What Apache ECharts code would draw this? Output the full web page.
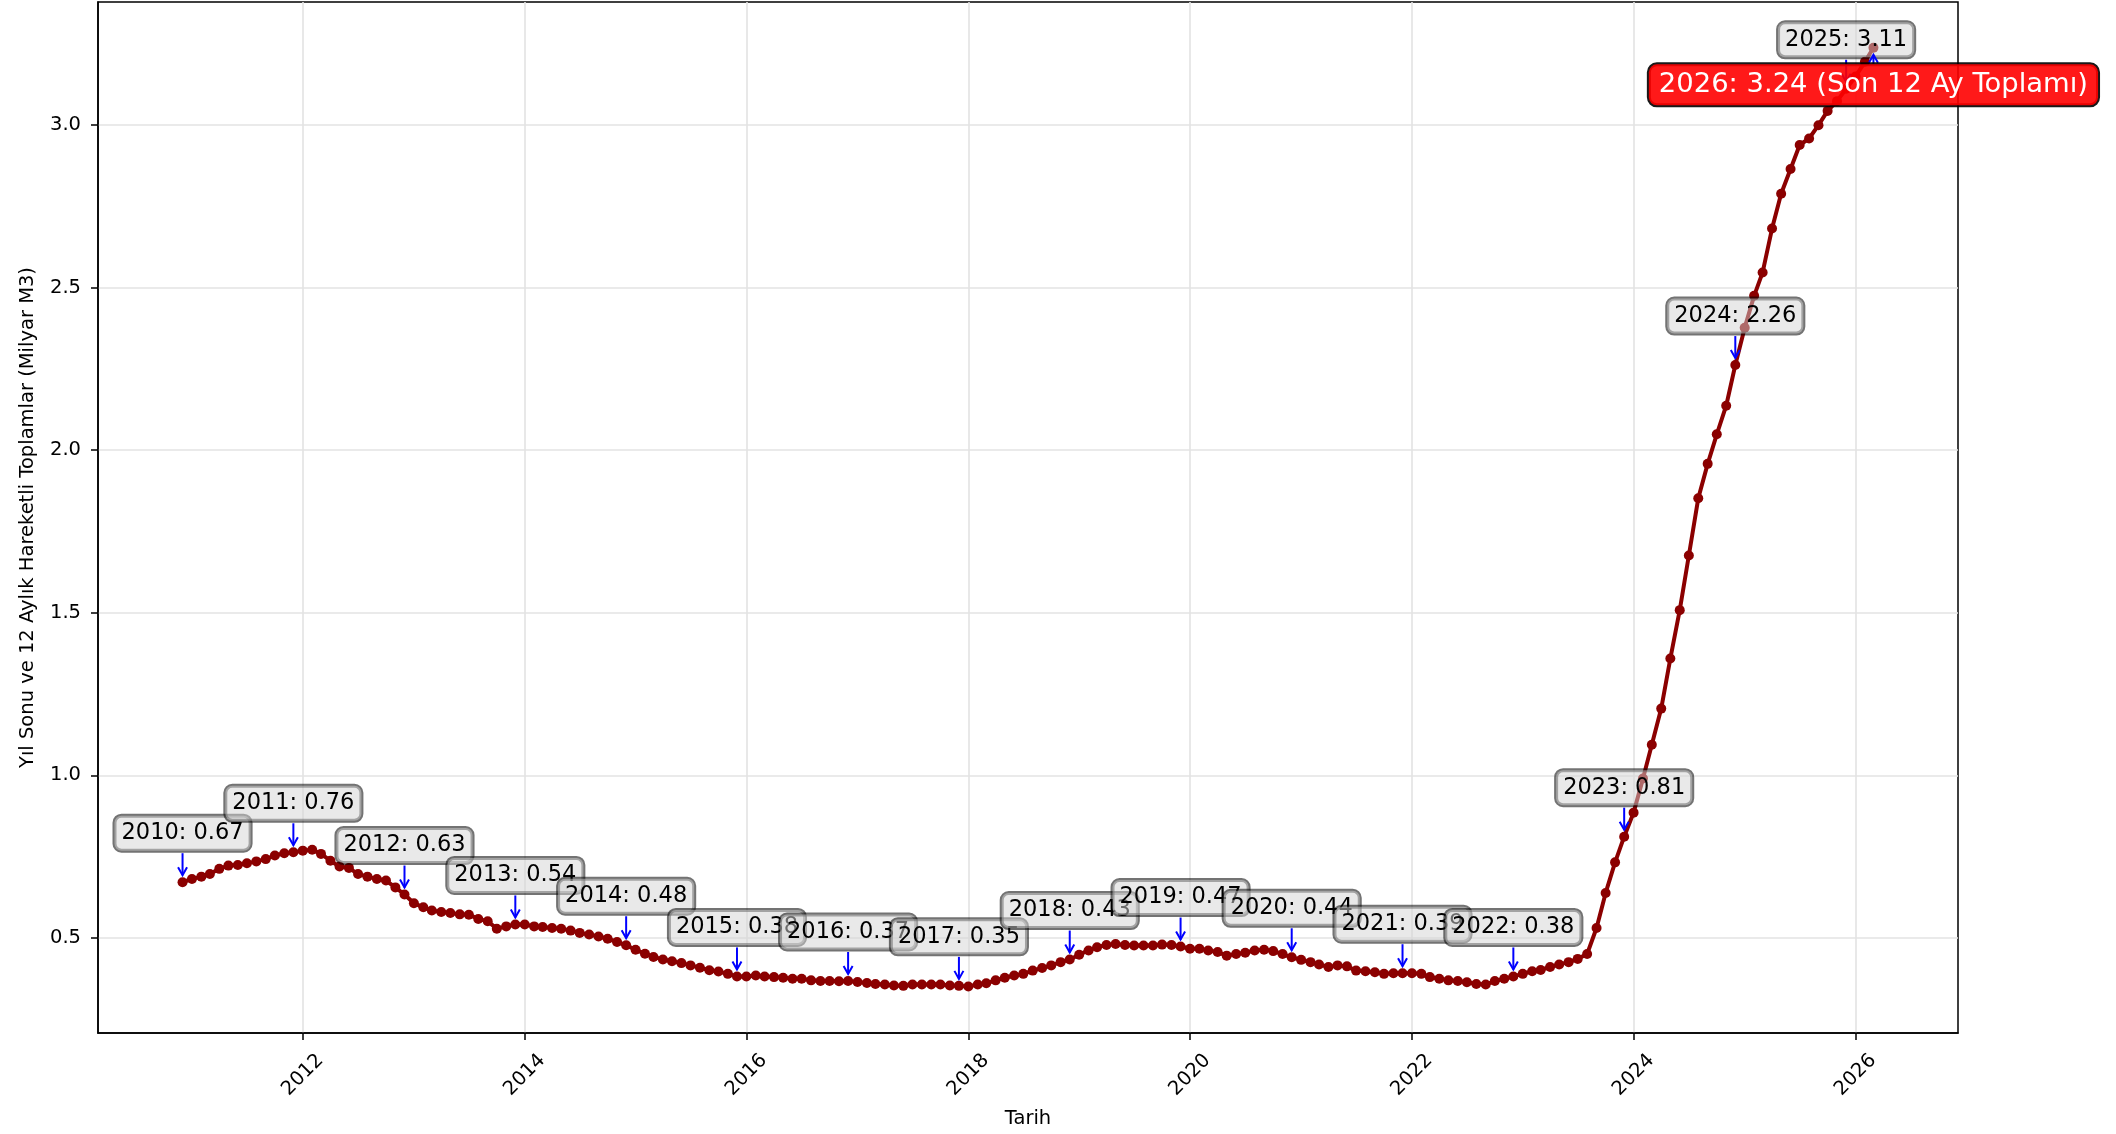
<!DOCTYPE html>
<html>
<head>
<meta charset="utf-8">
<script src="https://cdn.jsdelivr.net/npm/echarts@6/dist/echarts.min.js"></script>
<style>
html,body{margin:0;padding:0;background:#ffffff;}
#c{width:2116px;height:1134px;}
</style>
</head>
<body>
<div id="c"></div>
<script>
// ---- Data: 12-month moving totals (Milyar M3), monthly, first of month ----
const firstYear = 2010;
const firstMonth = 12;
const v2010 = [0.671];
const v2011 = [0.681,0.688,0.696,0.712,0.722,0.724,0.729,0.735,0.742,0.753,0.760,0.763];
const v2012 = [0.768,0.771,0.758,0.737,0.719,0.715,0.696,0.688,0.681,0.676,0.655,0.633];
const v2013 = [0.606,0.594,0.584,0.579,0.576,0.572,0.571,0.558,0.551,0.528,0.535,0.541];
const v2014 = [0.541,0.535,0.533,0.530,0.528,0.522,0.515,0.510,0.504,0.497,0.487,0.477];
const v2015 = [0.463,0.451,0.441,0.433,0.428,0.422,0.415,0.408,0.400,0.396,0.389,0.381];
const v2016 = [0.381,0.384,0.381,0.379,0.377,0.374,0.374,0.369,0.367,0.367,0.366,0.367];
const v2017 = [0.364,0.361,0.358,0.356,0.353,0.352,0.356,0.356,0.356,0.356,0.353,0.352];
const v2018 = [0.350,0.356,0.360,0.369,0.377,0.384,0.389,0.399,0.407,0.415,0.425,0.433];
const v2019 = [0.448,0.461,0.471,0.478,0.481,0.478,0.476,0.476,0.476,0.479,0.478,0.473];
const v2020 = [0.466,0.466,0.461,0.456,0.445,0.450,0.454,0.461,0.463,0.459,0.450,0.440];
const v2021 = [0.432,0.425,0.418,0.410,0.415,0.412,0.399,0.397,0.394,0.389,0.391,0.391];
const v2022 = [0.391,0.389,0.379,0.374,0.369,0.367,0.363,0.358,0.356,0.367,0.374,0.381];
const v2023 = [0.389,0.397,0.401,0.410,0.418,0.425,0.435,0.450,0.530,0.638,0.732,0.811];
const v2024 = [0.885,0.990,1.094,1.205,1.359,1.508,1.676,1.852,1.958,2.049,2.137,2.262];
const v2025 = [2.377,2.475,2.547,2.682,2.789,2.865,2.939,2.959,3.000,3.044,3.074,3.112];
const v2026 = [3.150,3.195,3.238];

const yearValues = [v2010,v2011,v2012,v2013,v2014,v2015,v2016,v2017,v2018,v2019,v2020,v2021,v2022,v2023,v2024,v2025,v2026];

const xTickYears = [2012,2014,2016,2018,2020,2022,2024,2026];
const yTickValues = [0.5,1.0,1.5,2.0,2.5,3.0];
const lastLabelSuffix = ' (Son 12 Ay Toplamı)';
const xAxisName = 'Tarih';
const yAxisName = 'Yıl Sonu ve 12 Aylık Hareketli Toplamlar (Milyar M3)';

// ---- Build series ----
const points = [];
const annotations = [];
yearValues.forEach((arr, yi) => {
  const year = firstYear + yi;
  const m0 = (yi === 0) ? firstMonth : 1;
  arr.forEach((v, k) => {
    const ts = new Date(year, m0 - 1 + k, 1).getTime();
    points.push([ts, v]);
    if (m0 + k === 12) annotations.push({ts: ts, v: v, text: year + ': ' + v.toFixed(2), last: false});
  });
});
const lastPt = points[points.length - 1];
annotations.push({ts: lastPt[0], v: lastPt[1], text: new Date(lastPt[0]).getFullYear() + ': ' + lastPt[1].toFixed(2) + lastLabelSuffix, last: true});

const xMin = new Date(2010, 1, 25, 13).getTime();
const xMax = new Date(2026, 11, 4, 11).getTime();
const xTicks = xTickYears.map(y => new Date(y, 0, 1).getTime());

const FONT = '"DejaVu Sans", "Liberation Sans", sans-serif';
const chart = echarts.init(document.getElementById('c'), null, {renderer: 'canvas', width: 2116, height: 1134});

function renderAnn(params, api) {
  const a = annotations[params.dataIndex];
  const p = api.coord([api.value(0), api.value(1)]);
  const x = p[0], y = p[1];
  const blue = '#0000ff';
  if (!a.last) {
    return {
      type: 'group',
      children: [
        {type: 'line', shape: {x1: x, y1: y - 29, x2: x, y2: y - 7}, style: {stroke: blue, lineWidth: 2}},
        {type: 'polyline', shape: {points: [[x - 4.5, y - 15], [x, y - 7], [x + 4.5, y - 15]]}, style: {stroke: blue, lineWidth: 2, fill: null}},
        {type: 'text', x: x, y: y - 49, style: {
          text: a.text, font: '22.5px ' + FONT, fill: '#000000', align: 'center', verticalAlign: 'middle',
          backgroundColor: 'rgba(211,211,211,0.5)', borderColor: 'rgba(0,0,0,0.55)', borderWidth: 2,
          borderRadius: 7, padding: [6, 7, 6, 7]
        }}
      ]
    };
  }
  return {
    type: 'group',
    children: [
      {type: 'line', shape: {x1: x, y1: y + 16, x2: x, y2: y + 7}, style: {stroke: blue, lineWidth: 2}},
      {type: 'polyline', shape: {points: [[x - 4.5, y + 15], [x, y + 7], [x + 4.5, y + 15]]}, style: {stroke: blue, lineWidth: 2, fill: null}},
      {type: 'text', x: x, y: y + 37, style: {
        text: a.text, font: '27.4px ' + FONT, fill: '#ffffff', align: 'center', verticalAlign: 'middle',
        backgroundColor: 'rgba(255,0,0,0.9)', borderColor: 'rgba(0,0,0,0.9)', borderWidth: 2,
        borderRadius: 8, padding: [7, 10, 7, 10]
      }}
    ]
  };
}

const option = {
  animation: false,
  backgroundColor: '#ffffff',
  grid: {left: 98, right: 158, top: 2, bottom: 98, show: true, borderColor: '#000000', borderWidth: 1.5, backgroundColor: 'transparent'},
  xAxis: {
    type: 'value', min: xMin, max: xMax, scale: true,
    name: xAxisName, nameLocation: 'middle', nameGap: 86,
    nameTextStyle: {fontFamily: FONT, fontSize: 19.5, color: '#000', verticalAlign: 'middle'},
    axisLine: {show: true, onZero: false, lineStyle: {color: '#000', width: 1.5}},
    axisTick: {show: true, customValues: xTicks, length: 7, lineStyle: {color: '#000', width: 1.5}},
    axisLabel: {customValues: xTicks, formatter: v => String(new Date(v).getFullYear()), rotate: 45, align: 'center', verticalAlign: 'middle', margin: 42, fontFamily: FONT, fontSize: 19.5, color: '#000'},
    splitLine: {show: true, lineStyle: {color: '#e3e3e3', width: 1.6}}
  },
  yAxis: {
    type: 'value', min: 0.207, max: 3.379,
    name: yAxisName, nameLocation: 'middle', nameGap: 70, nameRotate: 90,
    nameTextStyle: {fontFamily: FONT, fontSize: 19.5, color: '#000', verticalAlign: 'middle', align: 'center'},
    axisLine: {show: true, onZero: false, lineStyle: {color: '#000', width: 1.5}},
    axisTick: {show: true, customValues: yTickValues, length: 7, lineStyle: {color: '#000', width: 1.5}},
    axisLabel: {customValues: yTickValues, formatter: v => Number(v).toFixed(1), margin: 17, fontFamily: FONT, fontSize: 19.5, color: '#000'},
    splitLine: {show: true, lineStyle: {color: '#e3e3e3', width: 1.6}}
  },
  series: [
    {
      type: 'line', data: points, z: 2,
      symbol: 'circle', symbolSize: 10, showSymbol: true,
      itemStyle: {color: '#8b0000', borderWidth: 0},
      lineStyle: {color: '#8b0000', width: 4},
      emphasis: {disabled: true}
    },
    {
      type: 'custom', z: 3, clip: false,
      data: annotations.map(a => [a.ts, a.v]),
      encode: {x: 0, y: 1},
      renderItem: renderAnn
    }
  ]
};
chart.setOption(option);
</script>
</body>
</html>
